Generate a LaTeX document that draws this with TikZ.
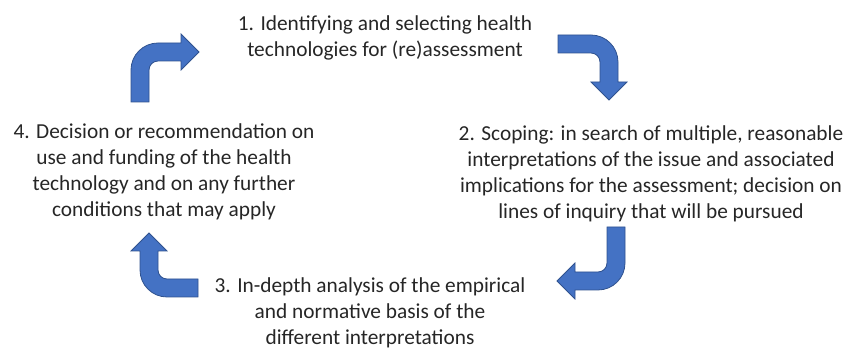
\documentclass[tikz,border=0pt]{standalone}
\usepackage{fontspec}
\setmainfont{Carlito}
\usepackage{xcolor}
\usetikzlibrary{positioning}

\definecolor{arrowblue}{HTML}{4472C4}
\definecolor{arrowedge}{HTML}{2F528F}
\definecolor{textgray}{HTML}{262626}

\begin{document}
\begin{tikzpicture}[
  x=0.75pt, y=-0.75pt,
  every node/.style={font=\fontsize{16}{19.5}\selectfont, text=textgray},
  stage/.style={align=center, inner sep=0pt},
  bent/.style={fill=arrowblue, draw=arrowedge, line width=0.6pt, line join=miter}
]
\useasboundingbox (0,0) rectangle (851,348);

%% Nodes
\node[stage] (ident) at (385,38)  {1. Identifying and selecting health\\technologies for (re)assessment};
\node[stage] (scope) at (651,174) {2. Scoping: in search of multiple, reasonable\\interpretations of the issue and associated\\implications for the assessment; decision on\\lines of inquiry that will be pursued};
\node[stage] (depth) at (370,313) {3. In-depth analysis of the empirical\\and normative basis of the\\different interpretations};
\node[stage] (decide) at (164,172) {4. Decision or recommendation on\\use and funding of the health\\technology and on any further\\conditions that may apply};

%% Arrows
% 4 -> 1
\draw[bent] (131,102) -- (131,70) .. controls (131,55.1) and (143.1,43) .. (158,43)
  -- (181,43) -- (181,34) -- (199,52) -- (181,70) -- (181,61) -- (158,61)
  .. controls (153,61) and (149,65) .. (149,70) -- (149,102) -- cycle;
% 1 -> 2
\draw[bent] (558,35) -- (591,35) .. controls (605.9,35) and (618,47.1) .. (618,62)
  -- (618,82) -- (627,82) -- (609,100) -- (591,82) -- (600,82) -- (600,62)
  .. controls (600,57) and (596,53) .. (591,53) -- (558,53) -- cycle;
% 2 -> 3
\draw[bent] (607,227) -- (625,227) -- (625,263) .. controls (625,277.9) and (612.9,290) .. (598,290)
  -- (575,290) -- (575,299) -- (557,281) -- (575,263) -- (575,272) -- (598,272)
  .. controls (603,272) and (607,268) .. (607,263) -- cycle;
% 3 -> 4
\draw[bent] (198,279) -- (167,279) .. controls (162,279) and (158,275) .. (158,270)
  -- (158,251) -- (167,251) -- (149,233) -- (131,251) -- (140,251) -- (140,270)
  .. controls (140,284.9) and (152.1,297) .. (167,297) -- (198,297) -- cycle;

\end{tikzpicture}
\end{document}
